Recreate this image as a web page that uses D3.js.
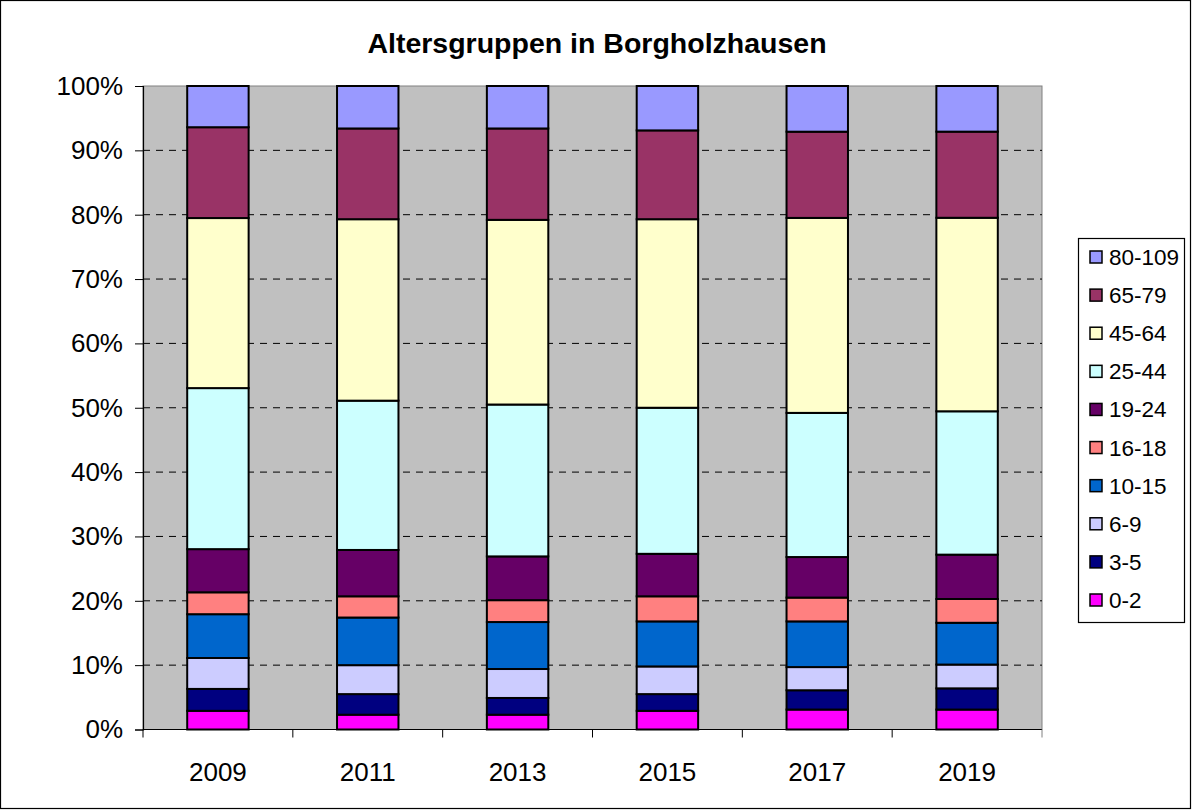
<!DOCTYPE html>
<html>
<head>
<meta charset="utf-8">
<script src="https://cdn.jsdelivr.net/npm/d3@7"></script>
<style>
  body { margin: 0; background: #fff; }
  svg { display: block; font-family: "Liberation Sans", Arial, sans-serif; }
</style>
</head>
<body>
<svg id="chart" width="1192" height="810"></svg>
<script>
// data (percent of population per age group)
var years = ["2009", "2011", "2013", "2015", "2017", "2019"],
    groups = ["0-2", "3-5", "6-9", "10-15", "16-18", "19-24", "25-44", "45-64", "65-79", "80-109"],
    colors = ["#FF00FF", "#000080", "#CCCCFF", "#0066CC", "#FF8080", "#660066", "#CCFFFF", "#FFFFCC", "#993366", "#9999FF"],
    v2009 = [2.9, 3.4, 4.8, 6.8, 3.4, 6.7, 25.0, 26.4, 14.1, 6.4],
    v2011 = [2.3, 3.2, 4.5, 7.4, 3.3, 7.2, 23.2, 28.2, 14.1, 6.6],
    v2013 = [2.3, 2.6, 4.5, 7.3, 3.4, 6.8, 23.6, 28.7, 14.2, 6.6],
    v2015 = [2.9, 2.6, 4.3, 7.0, 3.9, 6.6, 22.7, 29.3, 13.8, 6.9],
    v2017 = [3.1, 3.0, 3.6, 7.1, 3.7, 6.3, 22.4, 30.3, 13.4, 7.1],
    v2019 = [3.1, 3.3, 3.7, 6.5, 3.7, 6.9, 22.3, 30.1, 13.4, 7.1],
    yTicks = [0, 0.1, 0.2, 0.3, 0.4, 0.5, 0.6, 0.7, 0.8, 0.9, 1.0],
    title = "Altersgruppen in Borgholzhausen";

var allVals = [v2009, v2011, v2013, v2015, v2017, v2019];

var rows = years.map(function (y, i) {
    var r = { year: y };
    groups.forEach(function (g, j) { r[g] = allVals[i][j]; });
    return r;
});

var svg = d3.select("#chart"),
    pLeft = 143, pRight = 1042, pTop = 86, pBottom = 729.5;

// outer frame
svg.append("rect").attr("x", 0.5).attr("y", 0.5).attr("width", 1190).attr("height", 808)
    .attr("fill", "#fff").attr("stroke", "#000").attr("stroke-width", 1.2);

var x = d3.scaleBand().domain(years).range([pLeft, pRight]).paddingInner(0.59).paddingOuter(0.295),
    xBand = d3.scaleBand().domain(years).range([pLeft, pRight]),
    y = d3.scaleLinear().domain([0, 1]).range([pBottom, pTop]),
    color = d3.scaleOrdinal().domain(groups).range(colors);

var stack = d3.stack().keys(groups).offset(d3.stackOffsetExpand),
    series = stack(rows);

// plot area
svg.append("rect").attr("x", pLeft).attr("y", pTop).attr("width", pRight - pLeft).attr("height", pBottom - pTop)
    .attr("fill", "#C0C0C0").attr("stroke", "#808080").attr("stroke-width", 1);

// dashed gridlines
svg.append("g").selectAll("line")
    .data(yTicks.filter(function (t) { return t > 0 && t < 1; }))
    .enter().append("line")
    .attr("x1", pLeft).attr("x2", pRight)
    .attr("y1", function (d) { return y(d); }).attr("y2", function (d) { return y(d); })
    .attr("stroke", "#000").attr("stroke-width", 1).attr("stroke-dasharray", "7,6");

// bars
svg.append("g").selectAll("g")
    .data(series)
    .enter().append("g")
    .attr("fill", function (d) { return color(d.key); })
    .selectAll("rect")
    .data(function (d) { return d; })
    .enter().append("rect")
    .attr("x", function (d) { return x(d.data.year); })
    .attr("width", x.bandwidth())
    .attr("y", function (d) { return y(d[1]); })
    .attr("height", function (d) { return y(d[0]) - y(d[1]); })
    .attr("stroke", "#000").attr("stroke-width", 2);

// y axis
var yAxis = d3.axisLeft(y).tickValues(yTicks).tickFormat(d3.format(".0%")).tickSize(8).tickPadding(12);
var gy = svg.append("g").attr("transform", "translate(" + pLeft + ",0)").call(yAxis);
gy.select(".domain").attr("stroke", "#000").attr("stroke-width", 1.2);
gy.selectAll(".tick line").attr("stroke", "#000");
gy.selectAll("text").attr("font-size", 26).attr("fill", "#000")
    .attr("font-family", "'Liberation Sans', Arial, sans-serif");

// x axis: ticks on band boundaries
var gx = svg.append("g");
gx.append("line").attr("x1", pLeft).attr("x2", pRight).attr("y1", pBottom).attr("y2", pBottom)
    .attr("stroke", "#000").attr("stroke-width", 1.2);
gx.selectAll(".xt")
    .data(years.concat(["end"]))
    .enter().append("line").attr("class", "xt")
    .attr("x1", function (d, i) { return i < years.length ? xBand(d) : pRight; })
    .attr("x2", function (d, i) { return i < years.length ? xBand(d) : pRight; })
    .attr("y1", pBottom).attr("y2", pBottom + 8)
    .attr("stroke", function (d, i) { return i === years.length ? "#808080" : "#000"; });
gx.selectAll("text")
    .data(years)
    .enter().append("text")
    .attr("x", function (d) { return xBand(d) + xBand.bandwidth() / 2; })
    .attr("y", 781)
    .attr("text-anchor", "middle")
    .attr("font-size", 26)
    .text(function (d) { return d; });

// title
svg.append("text").attr("x", 597).attr("y", 53).attr("text-anchor", "middle")
    .attr("font-size", 28.5).attr("font-weight", "bold").text(title);

// legend (reversed order)
var legend = svg.append("g");
legend.append("rect").attr("x", 1078.5).attr("y", 238.5).attr("width", 106).attr("height", 384)
    .attr("fill", "#fff").attr("stroke", "#000").attr("stroke-width", 1.2);
var legendGroups = groups.slice().reverse(),
    ly = d3.scalePoint().domain(legendGroups).range([257, 600]);
var li = legend.selectAll(".li")
    .data(legendGroups)
    .enter().append("g").attr("class", "li")
    .attr("transform", function (d) { return "translate(1090," + ly(d) + ")"; });
li.append("rect").attr("x", 0).attr("y", -6).attr("width", 12).attr("height", 12)
    .attr("fill", function (d) { return color(d); }).attr("stroke", "#000").attr("stroke-width", 1.5);
li.append("text").attr("x", 19).attr("y", 8).attr("font-size", 22.5).text(function (d) { return d; });
</script>
</body>
</html>
